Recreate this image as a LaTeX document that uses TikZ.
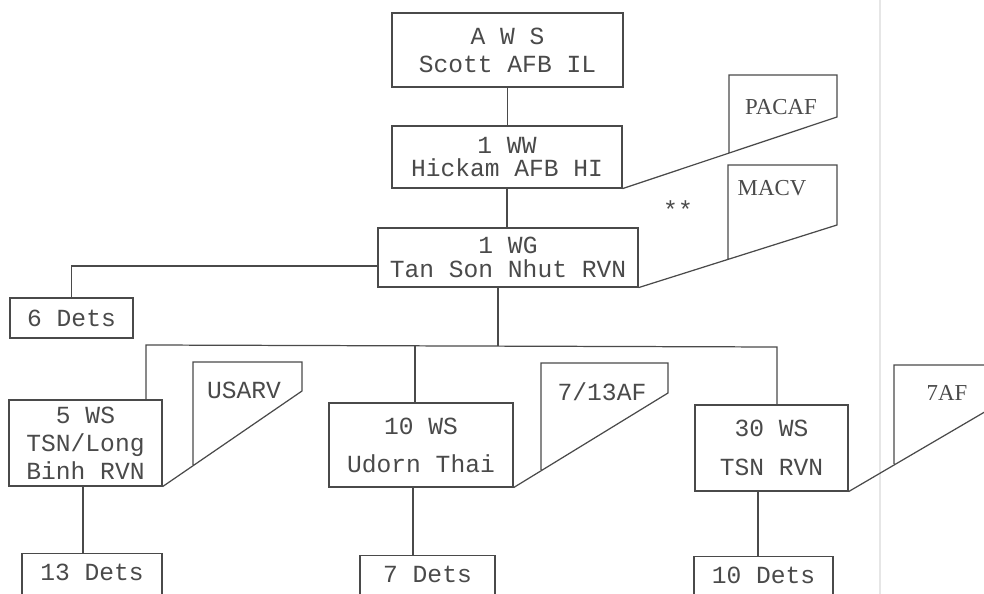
\documentclass[tikz,border=0pt]{standalone}
\usepackage{fontspec}
\newfontfamily\typer{Liberation Mono}
\newfontfamily\stamp{Liberation Serif}
\usetikzlibrary{calc}
\definecolor{ink}{HTML}{4A4A4A}
\definecolor{scan}{HTML}{E6E6E6}

\begin{document}
\begin{tikzpicture}[x=0.02cm, y=-0.02cm, line width=0.7pt, draw=ink,
  every node/.style={text=ink, inner sep=0pt},
  unit/.style={draw=ink, align=center, font=\typer\fontsize{14}{16}\selectfont},
  dets/.style={draw=ink, anchor=north, font=\typer\fontsize{14}{16}\selectfont, text height=0.54cm, text depth=0.6cm},
  flagtext/.style={font=\stamp\fontsize{13}{14}\selectfont},
  flagtype/.style={font=\typer\fontsize{14}{16}\selectfont}]
\clip (0,0) rectangle (984,594);
\fill[white] (0,0) rectangle (984,594);
\draw[scan, line width=1pt] (880,0) -- (880,594);

% units
\node[unit, minimum width=4.62cm, minimum height=1.48cm] (aws) at (507.5,50) {A W S\\Scott AFB IL};
\node[unit, minimum width=4.60cm, minimum height=1.24cm] (ww) at (507,157) {1 WW\\[-2.5pt]Hickam AFB HI};
\node[unit, minimum width=5.20cm, minimum height=1.18cm] (wg) at (508,257.5) {1 WG\\[-2.5pt]Tan Son Nhut RVN};
\node[unit, minimum width=2.46cm, minimum height=0.80cm] (dets6) at (71.5,318) {6 Dets};
\node[unit, minimum width=3.06cm, minimum height=1.72cm] (ws5) at (85.5,443) {5 WS\\TSN/Long\\Binh RVN};
\node[unit, minimum width=3.68cm, minimum height=1.68cm] (ws10) at (421,445) {10 WS\\[5.6pt]Udorn Thai};
\node[unit, minimum width=3.06cm, minimum height=1.72cm] (ws30) at (771.5,448) {30 WS\\[6pt]TSN RVN};
\node[dets, minimum width=2.80cm] (dets13) at (92,553) {13 Dets};
\node[dets, minimum width=2.70cm] (dets7) at (427.5,555) {7 Dets};
\node[dets, minimum width=2.78cm] (dets10) at (763.5,556) {10 Dets};

% chain of command
\draw (aws.south) -- (aws.south |- ww.north);
\draw (ww.south) -- (ww.south |- wg.north);
\draw ($(wg.west)+(0,8.5)$) -| (dets6.north);
\coordinate (busL) at (146,345);
\coordinate (busC) at (415,346);
\coordinate (busM) at (498,346);
\coordinate (busR) at (777,347);
\draw (busM |- wg.south) -- (busM);
\draw (busL |- ws5.north) -- (busL) -- (busR) -- (busR |- ws30.north);
\draw (busC) -- (busC |- ws10.north);
\coordinate (drop5) at (83,486);
\coordinate (drop10) at (413,487);
\coordinate (drop30) at (758,491);
\draw (drop5) -- (drop5 |- dets13.north);
\draw (drop10) -- (drop10 |- dets7.north);
\draw (drop30) -- (drop30 |- dets10.north);

% flags
\node[flagtext] (pacaf) at (781,107) {PACAF};
\coordinate (pacaf-tl) at (729,75);
\coordinate (pacaf-tr) at (837,75);
\coordinate (pacaf-br) at (837,117);
\coordinate (pacaf-bl) at (729,153);
\draw (ww.south east) -- (pacaf-br) -- (pacaf-tr) -- (pacaf-tl) -- (pacaf-bl);

\node[flagtype] (stars) at (678,210) {**};

\node[flagtext] (macv) at (772,188) {MACV};
\coordinate (macv-tl) at (728,165);
\coordinate (macv-tr) at (837,165);
\coordinate (macv-br) at (837,225);
\coordinate (macv-bl) at (728,259);
\draw (wg.south east) -- (macv-br) -- (macv-tr) -- (macv-tl) -- (macv-bl);

\node[flagtype] (usarv) at (244,390) {USARV};
\coordinate (usarv-tl) at (193,362);
\coordinate (usarv-tr) at (302,362);
\coordinate (usarv-br) at (302,391);
\coordinate (usarv-bl) at (193,465);
\draw (ws5.south east) -- (usarv-br) -- (usarv-tr) -- (usarv-tl) -- (usarv-bl);

\node[flagtype] (af713) at (602,392) {7/13AF};
\coordinate (af713-tl) at (541,363);
\coordinate (af713-tr) at (668,363);
\coordinate (af713-br) at (668,393);
\coordinate (af713-bl) at (541,470);
\draw (ws10.south east) -- (af713-br) -- (af713-tr) -- (af713-tl) -- (af713-bl);

\node[flagtext] (af7) at (947,393) {7AF};
\coordinate (af7-tl) at (894,365);
\coordinate (af7-tr) at (1000,365);
\coordinate (af7-br) at (1000,403);
\coordinate (af7-bl) at (894,464);
\draw (ws30.south east) -- (af7-br) -- (af7-tr) -- (af7-tl) -- (af7-bl);
\end{tikzpicture}
\end{document}
